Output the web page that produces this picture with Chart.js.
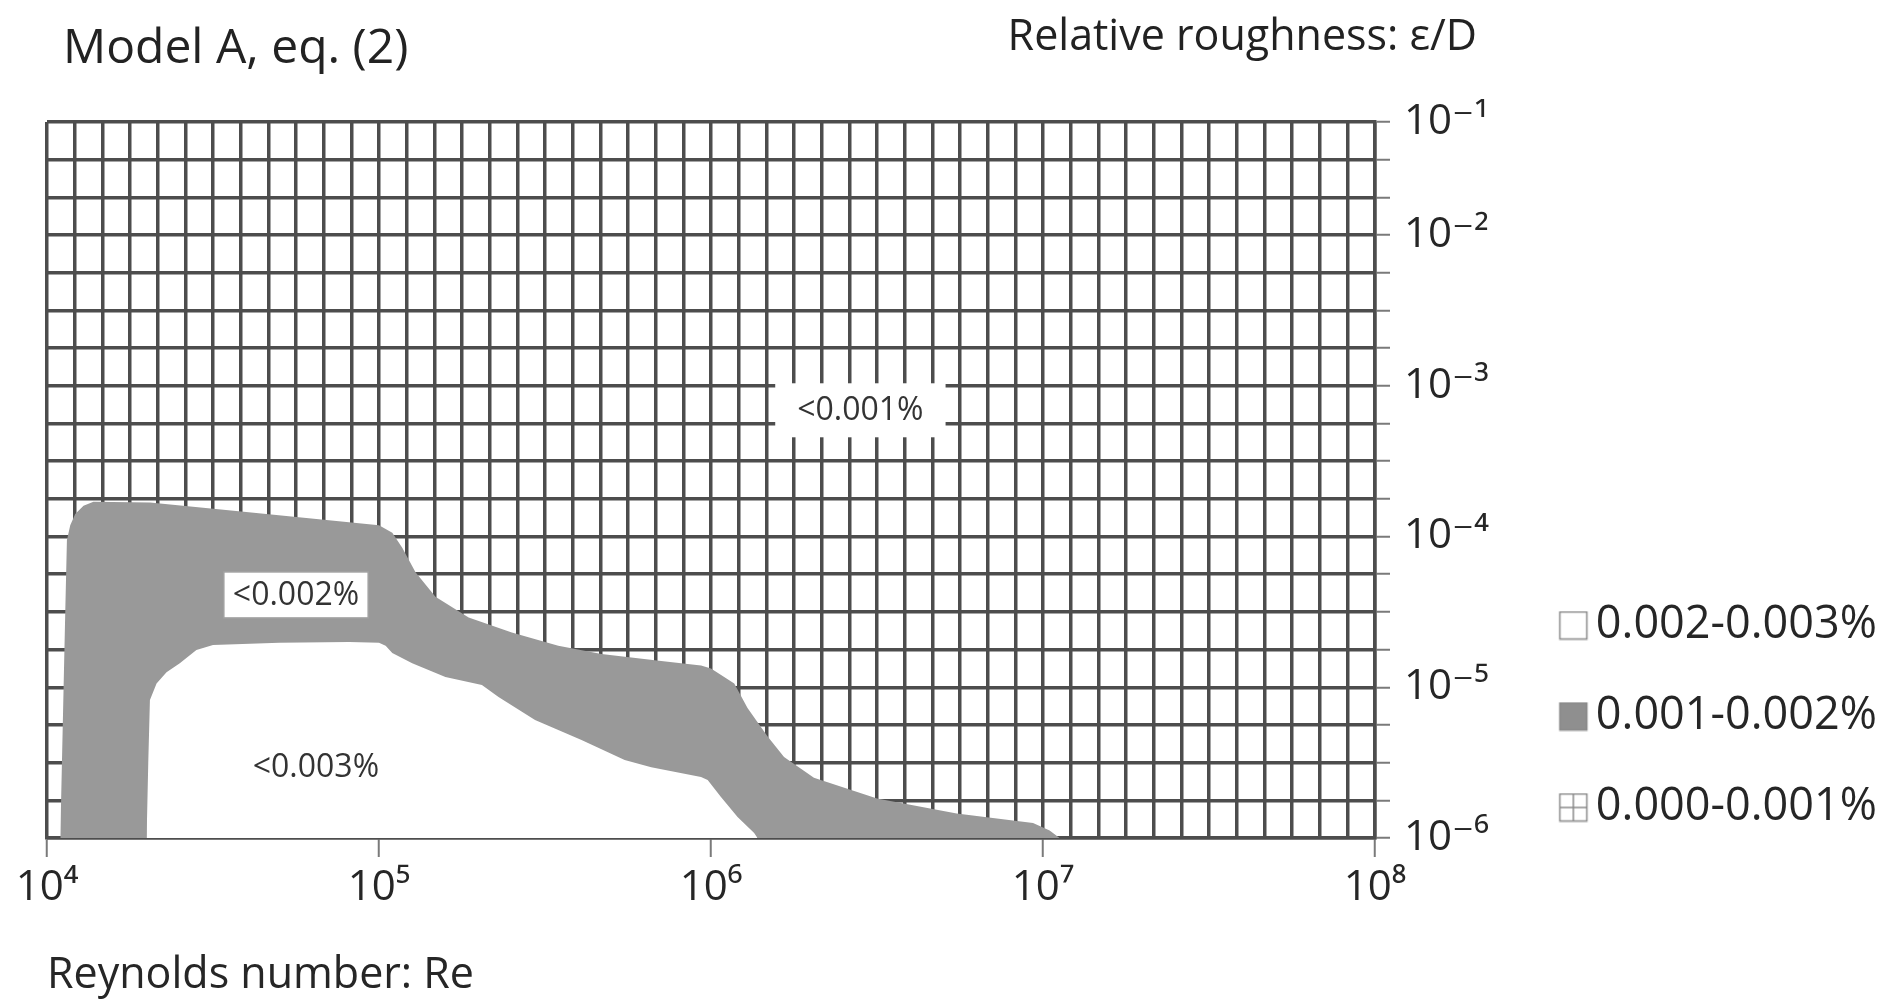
<!DOCTYPE html>
<html>
<head>
<meta charset="utf-8">
<title>Model A, eq. (2)</title>
<script src="https://cdn.jsdelivr.net/npm/chart.js@4.4.1/dist/chart.umd.min.js"></script>
<style>
  html, body { margin: 0; padding: 0; background: #fff; overflow: hidden; }
  canvas { display: block; }
</style>
</head>
<body>
<canvas id="roughChart" width="1891" height="1002"></canvas>
<script>
// x values are log10(Re), 12 grid columns per decade.
// y values are rows of the roughness grid: 4 rows per decade from 1e-6 to 1e-2, 3 rows up to 1e-1.
const xDecades = [4, 5, 6, 7, 8];
const xTickLabels = ["10⁴", "10⁵", "10⁶", "10⁷", "10⁸"];
const xColumnsPerDecade = 12;
const yTickRows = [0, 4, 8, 12, 16, 19];
const yTickLabels = ["10⁻⁶", "10⁻⁵", "10⁻⁴", "10⁻³", "10⁻²", "10⁻¹"];

// upper edge of the grey band (error 0.001-0.002%)
const band12LogRe = [4.04, 4.045, 4.05, 4.055, 4.06, 4.07, 4.085, 4.11, 4.14, 4.31, 4.6, 5.0, 5.04, 5.07, 5.11,
  5.17, 5.27, 5.4, 5.54, 5.67, 5.85, 5.97, 6.0, 6.07, 6.11, 6.17, 6.22, 6.31, 6.5, 6.74, 6.97, 7.02, 7.05];
const band12Row = [0, 2, 4, 6, 7.9, 8.3, 8.6, 8.82, 8.92, 8.9, 8.65, 8.3, 8.1, 7.7, 7.05,
  6.4, 5.85, 5.45, 5.1, 4.88, 4.7, 4.58, 4.5, 4.1, 3.45, 2.7, 2.15, 1.6, 1.05, 0.65, 0.4, 0.2, 0];

// upper edge of the white region (error 0.002-0.003%)
const band23LogRe = [4.3, 4.305, 4.31, 4.33, 4.36, 4.4, 4.45, 4.5, 4.7, 4.91, 5.0, 5.02, 5.04, 5.1,
  5.2, 5.31, 5.36, 5.47, 5.61, 5.74, 5.82, 5.97, 5.99, 6.03, 6.08, 6.13, 6.14];
const band23Row = [0, 2, 3.66, 4.1, 4.4, 4.64, 4.99, 5.12, 5.18, 5.2, 5.18, 5.1, 4.91, 4.64,
  4.27, 4.06, 3.74, 3.13, 2.6, 2.07, 1.88, 1.62, 1.54, 1.09, 0.56, 0.13, 0];

const legendLabels = ["0.002-0.003%", "0.001-0.002%", "0.000-0.001%"];
const regionLabels = ["<0.001%", "<0.002%", "<0.003%"];
const regionLabelLogRe = [6.45, 4.75, 4.81];
const regionLabelRow = [11.35, 6.45, 1.9];

const FONT = "'Open Sans', 'DejaVu Sans', sans-serif";
const TEXT = "#262626";
const GRID = "#4d4d4d";
const GREY = "#999999";

function points(xs, ys) {
  return xs.map((x, i) => ({ x: x, y: ys[i] }));
}

// icon canvas is centred on the legend box, so the square sits on its right side, next to the text
function legendIcon(kind) {
  const c = document.createElement("canvas");
  c.width = 68;
  c.height = 30;
  const g = c.getContext("2d");
  const x = 35.5, y = 1.5, s = 27;
  g.lineWidth = 1.5;
  g.strokeStyle = "#8a8a8a";
  g.fillStyle = kind === "grey" ? "#8f8f8f" : "#ffffff";
  g.fillRect(x, y, s, s);
  g.strokeRect(x, y, s, s);
  if (kind === "grid") {
    g.beginPath();
    g.moveTo(x + s / 2, y);
    g.lineTo(x + s / 2, y + s);
    g.moveTo(x, y + s / 2);
    g.lineTo(x + s, y + s / 2);
    g.stroke();
  }
  return c;
}
const legendIcons = [legendIcon("white"), legendIcon("grey"), legendIcon("grid")];

// move the legend column down next to the lower half of the plot
const legendShift = {
  id: "legendShift",
  afterLayout(chart) {
    const lg = chart.legend;
    const dy = 603 - (lg.top + lg.options.labels.padding);
    lg.top += dy;
    lg.bottom += dy;
  }
};

const textLayer = {
  id: "textLayer",
  afterDatasetsDraw(chart) {
    const { ctx, scales } = chart;
    ctx.save();
    ctx.font = "32px " + FONT;
    ctx.textAlign = "center";
    ctx.textBaseline = "middle";
    regionLabels.forEach((t, i) => {
      const px = scales.x.getPixelForValue(regionLabelLogRe[i]);
      const py = scales.y.getPixelForValue(regionLabelRow[i]);
      const w = ctx.measureText(t).width;
      if (i === 0) {
        ctx.fillStyle = "#ffffff";
        ctx.fillRect(px - w / 2 - 22, py - 27, w + 44, 54);
      } else if (i === 1) {
        ctx.fillStyle = "#ffffff";
        ctx.fillRect(px - w / 2 - 9, py - 23, w + 18, 46);
        ctx.strokeStyle = "#a0a0a0";
        ctx.lineWidth = 1.5;
        ctx.strokeRect(px - w / 2 - 9, py - 23, w + 18, 46);
      }
      ctx.fillStyle = "#333333";
      ctx.fillText(t, px, py + 1);
    });
    ctx.restore();
  },
  afterDraw(chart) {
    const { ctx, chartArea } = chart;
    ctx.save();
    ctx.fillStyle = "#222222";
    ctx.textBaseline = "alphabetic";
    ctx.font = "48px " + FONT;
    ctx.textAlign = "left";
    ctx.fillText("Model A, eq. (2)", chartArea.left + 16, 63);
    ctx.font = "43px " + FONT;
    ctx.textAlign = "right";
    ctx.fillText("Relative roughness: ε/D", chartArea.right + 102, 50);
    ctx.restore();
  }
};

const isDecade = (v) => Math.abs(v - Math.round(v)) < 1e-6;

const ctx = document.getElementById("roughChart").getContext("2d");

new Chart(ctx, {
  type: "line",
  data: {
    datasets: [
      {
        label: legendLabels[0],
        data: points(band23LogRe, band23Row),
        fill: "origin",
        backgroundColor: "#ffffff",
        borderColor: "rgba(0,0,0,0)",
        borderWidth: 0,
        pointRadius: 0,
        tension: 0
      },
      {
        label: legendLabels[1],
        data: points(band12LogRe, band12Row),
        fill: "origin",
        backgroundColor: GREY,
        borderColor: "rgba(0,0,0,0)",
        borderWidth: 0,
        pointRadius: 0,
        tension: 0
      }
    ]
  },
  options: {
    responsive: false,
    animation: false,
    events: [],
    layout: { padding: { left: 47, top: 122, right: 4, bottom: 0 } },
    plugins: {
      tooltip: { enabled: false },
      legend: {
        position: "right",
        align: "start",
        onClick: () => {},
        labels: {
          usePointStyle: true,
          pointStyleWidth: 30,
          padding: 46,
          color: TEXT,
          font: { family: FONT, size: 45 },
          generateLabels: () => legendLabels.map((text, i) => ({
            text: text,
            pointStyle: legendIcons[i],
            fontColor: TEXT,
            fillStyle: "transparent",
            strokeStyle: "transparent",
            lineWidth: 0,
            hidden: false,
            datasetIndex: i
          }))
        }
      }
    },
    scales: {
      x: {
        type: "linear",
        min: xDecades[0],
        max: xDecades[xDecades.length - 1],
        afterBuildTicks: (scale) => {
          const n = (xDecades.length - 1) * xColumnsPerDecade;
          const ticks = [];
          for (let i = 0; i <= n; i++) ticks.push({ value: xDecades[0] + i / xColumnsPerDecade });
          scale.ticks = ticks;
        },
        afterFit: (scale) => { scale.height = 164; },
        ticks: {
          autoSkip: false,
          maxRotation: 0,
          padding: 6,
          color: TEXT,
          font: { family: FONT, size: 42 },
          callback: (v) => isDecade(v) ? xTickLabels[xDecades.indexOf(Math.round(v))] : ""
        },
        grid: {
          color: GRID,
          lineWidth: 3.5,
          tickLength: 19,
          tickWidth: 2,
          tickColor: (c) => (c.tick && isDecade(c.tick.value)) ? "#7a7a7a" : "rgba(0,0,0,0)"
        },
        border: { display: true, color: GRID, width: 3.5 },
        title: {
          display: true,
          text: "Reynolds number: Re",
          align: "start",
          color: TEXT,
          font: { family: FONT, size: 43 },
          padding: { top: 0, bottom: 0 }
        }
      },
      y: {
        type: "linear",
        position: "right",
        min: yTickRows[0],
        max: yTickRows[yTickRows.length - 1],
        afterBuildTicks: (scale) => {
          const ticks = [];
          for (let r = scale.min; r <= scale.max; r++) ticks.push({ value: r });
          scale.ticks = ticks;
        },
        afterFit: (scale) => {
          const ch = scale.chart;
          scale.width = ch.width - 4 - ch.legend.width - 1375;
        },
        ticks: {
          autoSkip: false,
          padding: 14,
          color: TEXT,
          font: { family: FONT, size: 42 },
          callback: (v) => {
            const i = yTickRows.indexOf(v);
            return i >= 0 ? yTickLabels[i] : "";
          }
        },
        grid: {
          color: GRID,
          lineWidth: 3.5,
          tickLength: 15,
          tickWidth: 2,
          tickColor: "#7a7a7a"
        },
        border: { display: true, color: GRID, width: 3.5 }
      }
    }
  },
  plugins: [legendShift, textLayer]
});
</script>
</body>
</html>
